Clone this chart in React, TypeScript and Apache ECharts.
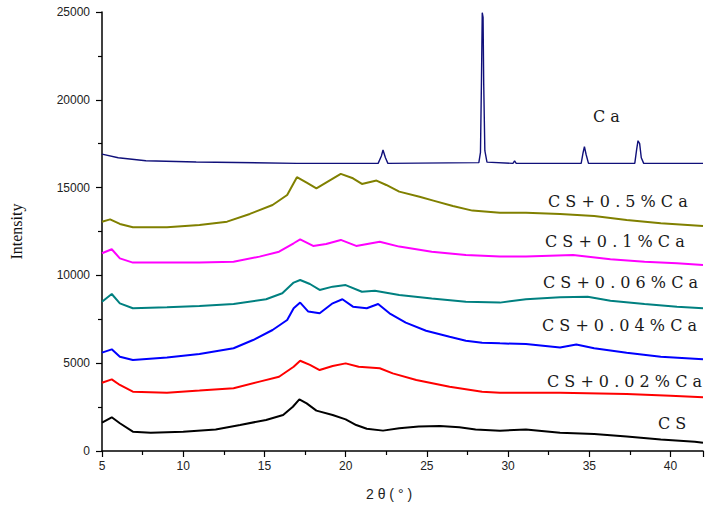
import React, { useEffect, useRef } from "react";
import * as echarts from "echarts";

// [2θ, intensity] pairs
const caData = [[5,16910],[6,16700],[7.7,16530],[10.8,16460],[17,16380],[22,16380],[22.2,16800],[22.3,17140],[22.45,16700],[22.6,16380],[28.2,16420],[28.3,17000],[28.36,21000],[28.41,24960],[28.46,24700],[28.5,20900],[28.57,17100],[28.7,16450],[30.3,16380],[30.4,16520],[30.5,16380],[34.5,16380],[34.62,17000],[34.7,17330],[34.8,16900],[34.95,16380],[37.8,16380],[37.92,17200],[38,17670],[38.1,17500],[38.2,16700],[38.35,16380],[42,16380]];
const cs05 = [[5,13060],[5.5,13190],[6.1,12930],[6.9,12740],[9,12740],[11,12870],[12.7,13060],[14.1,13500],[15.5,14010],[16.4,14580],[17,15590],[17.6,15280],[18.2,14960],[19,15400],[19.7,15780],[20.45,15530],[21,15210],[21.9,15400],[22.5,15150],[23.3,14770],[24.55,14480],[25.4,14260],[26.6,13950],[27.8,13690],[29.5,13570],[31.1,13570],[33.2,13500],[35.3,13380],[37.3,13160],[39.4,12970],[42,12810]];
const cs01 = [[5,11260],[5.6,11490],[6.1,10970],[6.9,10730],[9,10730],[11,10730],[13.1,10780],[14.7,11070],[15.9,11350],[16.8,11830],[17.2,12050],[18,11680],[18.8,11790],[19.7,12020],[20.65,11680],[22.1,11920],[23.3,11640],[25.3,11350],[27.4,11160],[29.5,11070],[31.1,11070],[34,11160],[36.3,10920],[38.4,10780],[40.4,10690],[42,10590]];
const cs006 = [[5,8500],[5.6,8940],[6.1,8410],[6.9,8130],[9,8180],[11,8260],[13.1,8370],[15.1,8640],[16.1,8980],[16.8,9590],[17.2,9740],[17.8,9510],[18.4,9170],[19.2,9360],[20,9450],[21,9070],[21.8,9130],[23.3,8880],[25.3,8690],[27.4,8500],[29.5,8450],[31.1,8640],[33.2,8750],[34.9,8790],[36.3,8560],[38.4,8370],[40.4,8220],[42,8130]];
const cs004 = [[5,5600],[5.6,5790],[6.1,5370],[6.9,5180],[9,5330],[11,5520],[13.1,5850],[14.3,6320],[15.5,6890],[16.4,7460],[16.8,8130],[17.2,8450],[17.7,7940],[18.4,7840],[19.2,8410],[19.8,8640],[20.45,8220],[21.3,8130],[22,8370],[22.7,7840],[23.7,7310],[24.95,6850],[26.4,6510],[27.4,6280],[28.4,6170],[29.5,6130],[31.1,6090],[33.2,5900],[34.2,6060],[35.3,5850],[37.3,5600],[39.4,5370],[42,5220]];
const cs002 = [[5,3890],[5.6,4080],[6.1,3760],[6.9,3380],[9,3320],[11,3440],[13.1,3570],[14.7,3950],[15.9,4230],[16.8,4800],[17.2,5140],[17.8,4900],[18.4,4610],[19.2,4840],[20,4990],[20.8,4800],[22.1,4710],[22.9,4420],[24.35,4040],[26.4,3660],[28.4,3380],[29.5,3320],[33.2,3320],[37.3,3250],[40,3150],[42,3060]];
const csData = [[5,1610],[5.6,1920],[6.1,1580],[6.9,1100],[8,1040],[10,1100],[12,1230],[13.5,1480],[15.1,1770],[16.15,2050],[16.75,2520],[17.15,2940],[17.6,2710],[18.2,2300],[19.2,2050],[20,1800],[20.65,1480],[21.3,1270],[22.3,1160],[23.3,1290],[24.5,1390],[25.8,1420],[27,1350],[28,1230],[29.5,1160],[31.1,1230],[33.2,1040],[35.3,970],[37.3,820],[39.4,660],[41.5,530],[42,470]];

const seriesNames = ["C a", "C S + 0 . 5 % C a", "C S + 0 . 1 % C a", "C S + 0 . 0 6 % C a", "C S + 0 . 0 4 % C a", "C S + 0 . 0 2 % C a", "C S"];
const seriesData = [caData, cs05, cs01, cs006, cs004, cs002, csData];
const seriesColors = ["#10107a", "#808000", "#ff00ff", "#008080", "#0000ff", "#ff0000", "#000000"];
const labelPos = [[593, 118], [548, 203], [545, 243], [543, 284], [542, 327], [547, 383], [658, 425]];

export default function App() {
  const ref = useRef<HTMLDivElement>(null);
  useEffect(() => {
    document.body.style.margin = "0";
    const chart = echarts.init(ref.current!, null, { renderer: "svg" });
    const axisCommon = {
      axisLine: { show: true, lineStyle: { color: "#000", width: 1.5 } },
      axisTick: { show: true, inside: false, length: 6, lineStyle: { color: "#000", width: 1.2 } },
      minorTick: { show: true, splitNumber: 2, length: 4, lineStyle: { color: "#000", width: 1.2 } },
      splitLine: { show: false },
      axisLabel: { color: "#222", fontSize: 12, fontFamily: "Liberation Sans, Arial, sans-serif", formatter: (v: number) => String(v) },
    };
    chart.setOption({
      animation: false,
      backgroundColor: "#fff",
      grid: { left: 101, right: 6, top: 12, bottom: 66 },
      xAxis: {
        type: "value", min: 5, max: 42, interval: 5,
        ...axisCommon,
        axisLabel: { ...axisCommon.axisLabel, margin: 9, showMaxLabel: false },
      },
      yAxis: {
        type: "value", min: 0, max: 25000, interval: 5000,
        ...axisCommon,
        axisLabel: { ...axisCommon.axisLabel, margin: 12 },
        name: "Intensity", nameLocation: "middle", nameGap: 78,
        nameTextStyle: { fontFamily: "Liberation Serif, Times New Roman, serif", fontSize: 16, color: "#111" },
      },
      series: seriesData.map((d, i) => ({
        type: "line", name: seriesNames[i], data: d, showSymbol: false, symbol: "none",
        lineStyle: { color: seriesColors[i], width: i === 0 ? 1.4 : 2 },
        z: 2,
      })),
      graphic: [
        ...seriesNames.map((n, i) => ({
          type: "text", left: labelPos[i][0], top: labelPos[i][1] - 10,
          style: { text: n, fontSize: 16, fontFamily: "DejaVu Serif, serif", fill: "#1a1a1a" },
        })),
        { type: "text", left: 366, top: 487, style: { text: "2 θ ( ° )", fontSize: 14, fontFamily: "Liberation Sans, Arial, sans-serif", fill: "#222" } },
      ],
    });
    return () => chart.dispose();
  }, []);
  return <div ref={ref} style={{ width: 709, height: 517 }} />;
}
